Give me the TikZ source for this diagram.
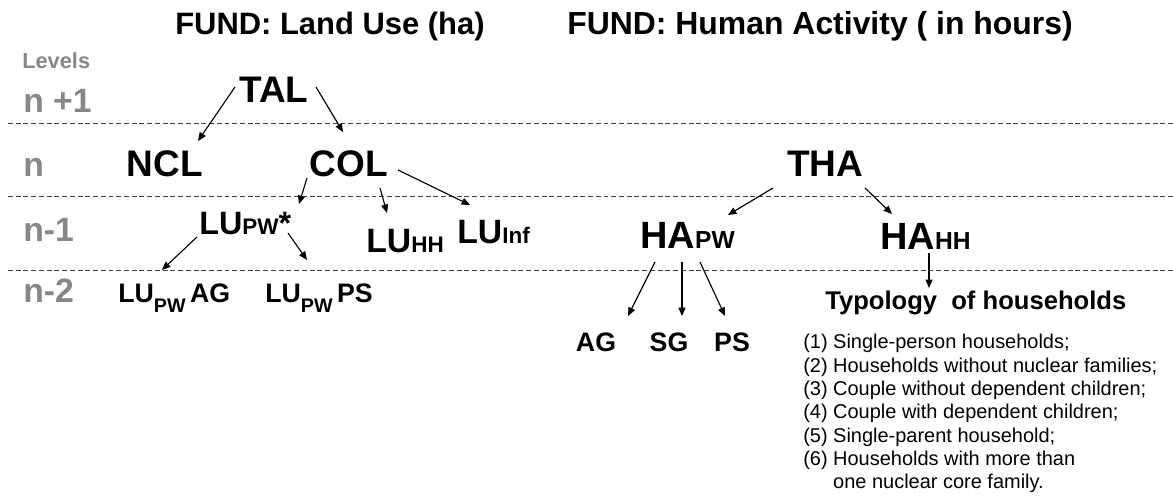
\documentclass[tikz,border=0pt]{standalone}
\usepackage{fontspec}
\setmainfont{Liberation Sans}
\usetikzlibrary{arrows.meta}
\definecolor{levelgray}{RGB}{135,135,135}
\newcommand{\fsz}[1]{\fontsize{#1}{#1}\selectfont}
\begin{document}
\begin{tikzpicture}[
        x=0.025cm, y=-0.025cm,
        lvl/.style={font=\bfseries\fsz{24}, text=levelgray, anchor=base west, inner sep=0},
        big/.style={font=\bfseries\fsz{26.3}, anchor=base, inner sep=0},
        sub/.style={font=\bfseries, anchor=base west, inner sep=0},
        arr/.style={-{Triangle[length=6pt,width=5pt]}, line width=0.8pt},
        levelline/.style={line width=0.6pt, black!75, dash pattern=on 3.5pt off 2pt}
    ]
    \useasboundingbox (0,0) rectangle (1173,497);

    % titles
    \node[font=\bfseries\fsz{22}, anchor=base west, inner sep=0, name=titlelu] at (175,35) {FUND: Land Use (ha)};
    \node[font=\bfseries\fsz{22.7}, anchor=base west, inner sep=0, name=titleha] at (567,35) {FUND: Human Activity ( in hours)};

    % levels
    \node[lvl, font=\bfseries\fsz{15.5}, name=levels] at (22,69) {Levels};
    \node[lvl, name=lvla] at (23,113) {n +1};
    \node[lvl, name=lvlb] at (23,177) {n};
    \node[lvl, name=lvlc] at (23,242) {n-1};
    \node[lvl, name=lvld] at (23,303) {n-2};

    \draw[levelline] (8,123) -- (1173,123);
    \draw[levelline] (8,196) -- (1173,196);
    \draw[levelline] (8,270) -- (1173,270);

    % land use
    \node[big, name=tal] at (274,103) {TAL};
    \node[big, name=ncl] at (165,177) {NCL};
    \node[big, name=col] at (349,177) {COL};

    \node[sub, name=lupw] at (199,235) {\fsz{23}LU\fsz{16}PW\fsz{23}*};
    \node[sub, name=luhh] at (366,253) {\fsz{24}LU\fsz{16}HH};
    \node[sub, name=luinf] at (457,244) {\fsz{24}LU\fsz{16}Inf};

    \node[sub, name=lupwag] at (118,303) {\fsz{19}LU\raisebox{-6.5pt}{\fsz{14}PW}\,AG};
    \node[sub, name=lupwps] at (265,303) {\fsz{19}LU\raisebox{-6.5pt}{\fsz{14}PW}\,PS};

    \draw[arr] ([shift={(-39,-16)}]tal.base) -- ([shift={(33,-36)}]ncl.base);
    \draw[arr] ([shift={(42,-16)}]tal.base) -- ([shift={(-6,-45)}]col.base);
    \draw[arr] ([shift={(-42,1)}]col.base) -- ([shift={(100,-31)}]lupw.base west);
    \draw[arr] ([shift={(31,11)}]col.base) -- ([shift={(21,-40)}]luhh.base west);
    \draw[arr] ([shift={(49,-7)}]col.base) -- ([shift={(13,-39)}]luinf.base west);
    \draw[arr] ([shift={(-2,2)}]lupw.base west) -- ([shift={(44,-33)}]lupwag.base west);
    \draw[arr] ([shift={(89,-2)}]lupw.base west) -- ([shift={(42,-43)}]lupwps.base west);

    % human activity
    \node[big, name=tha] at (825,177) {THA};
    \node[sub, name=hapw] at (640,249) {\fsz{27}HA\fsz{17.5}PW};
    \node[sub, name=hahh] at (880,250) {\fsz{27}HA\fsz{17.5}HH};

    \node[big, font=\bfseries\fsz{19}, name=ag] at (596,352) {AG};
    \node[big, font=\bfseries\fsz{19}, name=sg] at (669,352) {SG};
    \node[big, font=\bfseries\fsz{19}, name=ps] at (732,352) {PS};

    \node[sub, font=\bfseries\fsz{18.2}, name=typ] at (825,310) {Typology\ \ of households};

    \node[anchor=base west, inner sep=0, align=left, font=\fontsize{14.2}{16.6}\selectfont, name=hhlist] at (803,489) {%
        (1) Single-person households;\\
        (2) Households without nuclear families;\\
        (3) Couple without dependent children;\\
        (4) Couple with dependent children;\\
        (5) Single-parent household;\\
        (6) Households with more than\\
        \phantom{(6) }one nuclear core family.};

    \draw[arr] ([shift={(-52,11)}]tha.base) -- ([shift={(88,-34)}]hapw.base west);
    \draw[arr] ([shift={(40,11)}]tha.base) -- ([shift={(12,-36)}]hahh.base west);
    \draw[arr] ([shift={(49,3)}]hahh.base west) -- ([shift={(104,-22)}]typ.base west);
    \draw[arr] ([shift={(15,13)}]hapw.base west) -- ([shift={(32,-36)}]ag.base);
    \draw[arr] ([shift={(42,13)}]hapw.base west) -- ([shift={(13,-36)}]sg.base);
    \draw[arr] ([shift={(60,13)}]hapw.base west) -- ([shift={(-7,-36)}]ps.base);
\end{tikzpicture}
\end{document}
